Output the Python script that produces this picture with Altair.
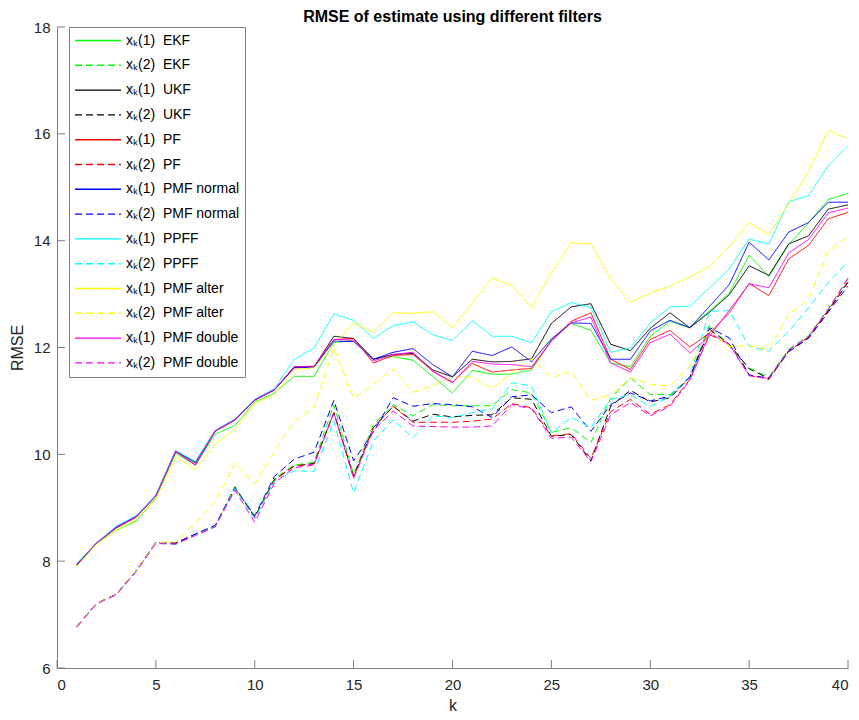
import altair as alt
import pandas as pd

k = list(range(1, 41))

ekf1 = [7.92, 8.33, 8.58, 8.75, 9.18, 10.02, 9.80, 10.38, 10.54, 10.98, 11.15, 11.46, 11.46,
        12.09, 12.14, 11.79, 11.83, 11.76, 11.46, 11.15,
        11.57, 11.50, 11.50, 11.58, 12.15, 12.45, 12.32, 11.71, 11.64, 12.21,
        12.49, 12.37, 12.69, 13.02, 13.73, 13.33, 13.93, 14.33, 14.77, 14.89]
ekf2 = [6.78, 7.21, 7.38, 7.82, 8.35, 8.33, 8.50, 8.66, 9.40, 8.83, 9.55, 9.80, 9.85,
        10.93, 9.62, 10.56, 10.93, 10.72, 10.93, 10.91,
        10.91, 10.91, 11.21, 11.15, 10.41, 10.50, 10.22, 11.05, 11.43, 11.12,
        11.12, 11.44, 12.43, 12.02, 11.62, 11.45, 11.97, 12.22, 12.73, 13.28]
ukf1 = [7.94, 8.34, 8.63, 8.83, 9.22, 10.06, 9.84, 10.44, 10.65, 11.02, 11.21, 11.64, 11.64,
        12.21, 12.17, 11.78, 11.87, 11.89, 11.58, 11.45,
        11.78, 11.73, 11.74, 11.79, 12.45, 12.76, 12.82, 12.06, 11.94, 12.36,
        12.65, 12.37, 12.66, 12.99, 13.53, 13.35, 13.94, 14.09, 14.59, 14.67]
ukf2 = [6.78, 7.21, 7.38, 7.82, 8.35, 8.34, 8.50, 8.66, 9.38, 8.82, 9.53, 9.78, 9.83,
        10.78, 9.59, 10.50, 10.90, 10.62, 10.75, 10.70,
        10.73, 10.74, 11.06, 11.03, 10.34, 10.37, 9.88, 10.90, 11.20, 10.98,
        11.06, 11.44, 12.34, 12.06, 11.60, 11.42, 11.94, 12.18, 12.68, 13.22]
pf1 = [7.93, 8.34, 8.62, 8.82, 9.22, 10.05, 9.80, 10.43, 10.64, 11.01, 11.21, 11.63, 11.64,
       12.15, 12.17, 11.71, 11.85, 11.87, 11.56, 11.35,
       11.70, 11.54, 11.58, 11.61, 12.12, 12.49, 12.65, 11.78, 11.59, 12.15,
       12.32, 12.01, 12.27, 12.65, 13.20, 12.97, 13.66, 13.91, 14.41, 14.53]
pf2 = [6.78, 7.21, 7.38, 7.82, 8.35, 8.34, 8.50, 8.66, 9.37, 8.80, 9.52, 9.78, 9.82,
       10.78, 9.57, 10.50, 10.90, 10.60, 10.60, 10.60,
       10.62, 10.66, 10.95, 10.87, 10.34, 10.39, 9.92, 10.80, 11.03, 10.75,
       10.93, 11.40, 12.24, 12.06, 11.49, 11.40, 11.93, 12.20, 12.70, 13.24]
pmfn1 = [7.93, 8.34, 8.64, 8.84, 9.23, 10.06, 9.86, 10.44, 10.65, 11.02, 11.21, 11.62, 11.63,
         12.12, 12.11, 11.78, 11.91, 11.98, 11.68, 11.45,
         11.93, 11.85, 12.01, 11.73, 12.16, 12.46, 12.45, 11.78, 11.78, 12.31,
         12.51, 12.37, 12.77, 13.18, 13.97, 13.64, 14.16, 14.34, 14.72, 14.72]
pmfn2 = [6.78, 7.21, 7.38, 7.82, 8.35, 8.34, 8.51, 8.67, 9.36, 8.85, 9.59, 9.91, 10.04,
         11.01, 9.88, 10.42, 11.06, 10.90, 10.95, 10.93,
         10.89, 10.69, 11.08, 11.11, 10.78, 10.89, 10.43, 10.93, 11.15, 11.00,
         11.09, 11.44, 12.37, 12.18, 11.48, 11.43, 11.92, 12.17, 12.66, 13.15]
ppff1 = [7.96, 8.34, 8.66, 8.85, 9.22, 10.07, 9.86, 10.45, 10.66, 11.03, 11.23, 11.78, 11.99,
         12.63, 12.51, 12.17, 12.41, 12.48, 12.24, 12.13,
         12.50, 12.21, 12.21, 12.09, 12.67, 12.84, 12.75, 11.91, 11.99, 12.46,
         12.76, 12.77, 13.12, 13.47, 14.03, 13.94, 14.73, 14.84, 15.40, 15.78]
ppff2 = [6.78, 7.21, 7.37, 7.81, 8.34, 8.31, 8.49, 8.65, 9.36, 8.80, 9.50, 9.69, 9.68,
         10.62, 9.28, 10.25, 10.65, 10.31, 10.72, 10.69,
         10.78, 10.85, 11.34, 11.28, 10.40, 10.69, 10.50, 11.03, 11.12, 10.89,
         11.09, 11.46, 12.68, 12.69, 12.02, 11.93, 12.30, 12.74, 13.21, 13.61]
pmfa1 = [7.90, 8.32, 8.58, 8.78, 9.16, 9.95, 9.71, 10.19, 10.47, 10.95, 11.12, 11.59, 11.62,
         12.04, 12.46, 12.29, 12.65, 12.64, 12.67, 12.37,
         12.84, 13.30, 13.16, 12.75, 13.41, 13.96, 13.94, 13.28, 12.85, 13.02,
         13.15, 13.32, 13.52, 13.89, 14.34, 14.11, 14.70, 15.29, 16.07, 15.90]
pmfa2 = [6.78, 7.21, 7.38, 7.82, 8.35, 8.36, 8.72, 9.10, 9.84, 9.44, 10.06, 10.62, 10.87,
         11.99, 11.05, 11.31, 11.60, 11.16, 11.28, 11.45,
         11.45, 11.23, 11.53, 11.79, 11.43, 11.56, 11.01, 11.12, 11.43, 11.31,
         11.28, 11.65, 12.30, 12.02, 12.03, 11.96, 12.62, 12.90, 13.80, 14.08]
pmfd1 = [7.93, 8.34, 8.63, 8.83, 9.22, 10.06, 9.80, 10.44, 10.65, 11.02, 11.21, 11.64, 11.65,
         12.15, 12.14, 11.75, 11.87, 11.91, 11.55, 11.34,
         11.74, 11.69, 11.68, 11.64, 12.12, 12.46, 12.57, 11.71, 11.54, 12.09,
         12.25, 11.90, 12.21, 12.70, 13.19, 13.12, 13.77, 14.02, 14.52, 14.61]
pmfd2 = [6.76, 7.20, 7.37, 7.80, 8.33, 8.32, 8.48, 8.64, 9.33, 8.73, 9.47, 9.75, 9.80,
         10.78, 9.55, 10.45, 10.81, 10.53, 10.52, 10.51,
         10.51, 10.53, 10.93, 10.85, 10.30, 10.32, 9.86, 10.74, 10.97, 10.72,
         10.90, 11.38, 12.27, 12.06, 11.47, 11.42, 11.95, 12.20, 12.71, 13.30]

filters = ["EKF", "UKF", "PF", "PMF normal", "PPFF", "PMF alter", "PMF double"]
colors = ["#00ff00", "#000000", "#ff0000", "#0000ff", "#00ffff", "#ffff00", "#ff00ff"]
series_values = [ekf1, ekf2, ukf1, ukf2, pf1, pf2, pmfn1, pmfn2,
                 ppff1, ppff2, pmfa1, pmfa2, pmfd1, pmfd2]

y_ticks = [6, 8, 10, 12, 14, 16, 18]
x_ticks = [0, 5, 10, 15, 20, 25, 30, 35, 40]

NB = "\u00a0"
names, color_range = [], []
for f, c in zip(filters, colors):
    for comp in (1, 2):
        names.append(f"x\u2096({comp}){NB}{NB}{f}")
        color_range.append(c)

rows = []
for order, (name, vals) in enumerate(zip(names, series_values)):
    for kk, v in zip(k, vals):
        rows.append({"k": kk, "RMSE": v, "series": name, "order": order,
                     "dashed": "dashed" if order % 2 else "solid"})
df = pd.DataFrame(rows)

W, H = 791, 641
FONT = "Liberation Sans"

xscale = alt.Scale(domain=[0, 40], nice=False, zero=False)
yscale = alt.Scale(domain=[6, 18], nice=False, zero=False)

legend = alt.Legend(
    title="", orient="none", legendX=12, legendY=0,
    symbolType="stroke", symbolSize=2116, symbolStrokeWidth=1.4,
    symbolDash=alt.ExprRef("indexof(datum.value, '(2)') >= 0 ? [7, 4] : [1, 0]"),
    labelFont=FONT, labelFontSize=14, labelColor="#000000",
    labelOffset=4, clipHeight=17, rowPadding=7.8, padding=5,
    strokeColor="#7f7f7f", fillColor="#ffffff",
)

axis_style = dict(grid=False, ticks=False, format="d",
                  labelFont=FONT, labelFontSize=15, labelColor="#262626",
                  titleFont=FONT, titleFontSize=16, titleColor="#262626",
                  titleFontWeight="normal", domainColor="#7f7f7f")

lines = alt.Chart(df).mark_line(strokeWidth=1).encode(
    x=alt.X("k:Q", scale=xscale,
            axis=alt.Axis(values=x_ticks, title="k", labelPadding=9, titlePadding=5,
                          **axis_style)),
    y=alt.Y("RMSE:Q", scale=yscale,
            axis=alt.Axis(values=y_ticks, title="RMSE", labelPadding=7, titlePadding=8,
                          **axis_style)),
    color=alt.Color("series:N", scale=alt.Scale(domain=names, range=color_range),
                    legend=legend),
    strokeDash=alt.StrokeDash("dashed:N",
                              scale=alt.Scale(domain=["solid", "dashed"],
                                              range=[[1, 0], [7, 4]]),
                              legend=None),
    detail="series:N",
    order=alt.Order("order:Q"),
)

ytick_df = pd.DataFrame({"v": y_ticks})
xtick_df = pd.DataFrame({"t": x_ticks})

yticks = alt.Chart(ytick_df).mark_rule(color="#7f7f7f", strokeWidth=1).encode(
    y=alt.Y("v:Q", scale=yscale),
    x=alt.value(0), x2=alt.value(8),
)
xticks = alt.Chart(xtick_df).mark_rule(color="#7f7f7f", strokeWidth=1).encode(
    x=alt.X("t:Q", scale=xscale),
    y=alt.value(H), y2=alt.value(H - 8),
)

chart = alt.layer(lines, yticks, xticks).properties(
    width=W, height=H,
    title=alt.TitleParams("RMSE of estimate using different filters", font=FONT,
                          fontSize=16, fontWeight="bold", color="#000000",
                          anchor="middle", frame="group", offset=0, dy=5),
    autosize=alt.AutoSizeParams(type="none"),
    padding={"left": 57, "top": 27, "right": 11, "bottom": 52},
).configure(background="#ffffff").configure_view(stroke=None).configure_axis(
    domainColor="#7f7f7f", domainWidth=1,
)

chart.save("out.html", embed_options={"renderer": "svg", "actions": False})
